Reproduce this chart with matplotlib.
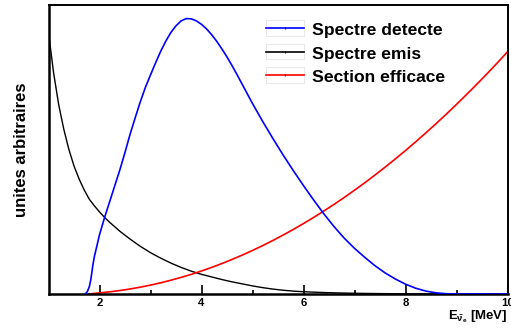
import numpy as np
import matplotlib
matplotlib.use("Agg")
import matplotlib.pyplot as plt
from matplotlib.lines import Line2D
from matplotlib.patches import Rectangle

plt.rcParams['font.family'] = ['Liberation Sans', 'DejaVu Sans']
plt.rcParams['font.weight'] = 'bold'
plt.rcParams['mathtext.fontset'] = 'custom'
plt.rcParams['mathtext.rm'] = 'Liberation Sans:bold'
plt.rcParams['mathtext.bf'] = 'Liberation Sans:bold'
plt.rcParams['mathtext.it'] = 'Liberation Sans:bold'

# emitted antineutrino spectrum (arbitrary units)
e_emis = [1.0, 1.1, 1.2, 1.3, 1.4, 1.5, 1.6, 1.7, 1.8, 1.9, 2.0, 2.1, 2.2, 2.4,
          2.6, 2.8, 3.0, 3.2, 3.4, 3.6, 3.8, 4.0, 4.2, 4.4, 4.6, 4.8, 5.0, 5.2,
          5.4, 5.6, 5.8, 6.0, 6.4, 6.8, 7.2, 7.6, 8.0, 9.0, 10.0]
spectre_emis = [0.905, 0.765, 0.655, 0.57, 0.50, 0.443, 0.398, 0.36, 0.328,
                0.305, 0.284, 0.265, 0.248, 0.217, 0.19, 0.165, 0.143, 0.124,
                0.107, 0.092, 0.079, 0.068, 0.059, 0.050, 0.042, 0.035, 0.028,
                0.022, 0.017, 0.013, 0.010, 0.0078, 0.005, 0.0032, 0.002,
                0.0012, 0.0007, 0.0002, 0.0]

# inverse beta decay cross section
e_sect = [1.8, 1.9, 2.0, 2.2, 2.4, 2.6, 2.8, 3.0, 3.2, 3.4, 3.6, 3.8, 4.0, 4.2,
          4.4, 4.6, 4.8, 5.0, 5.2, 5.4, 5.6, 5.8, 6.0, 6.2, 6.4, 6.6, 6.8, 7.0,
          7.2, 7.4, 7.6, 7.8, 8.0, 8.2, 8.4, 8.6, 8.8, 9.0, 9.2, 9.4, 9.6, 9.8,
          10.0]
section_efficace = [0.0, 0.0022, 0.0038, 0.0075, 0.012, 0.0174, 0.0237, 0.0308,
                    0.0388, 0.0477, 0.0575, 0.0681, 0.0797, 0.0921, 0.1054,
                    0.1196, 0.1347, 0.1507, 0.1675, 0.1853, 0.2039, 0.2234,
                    0.2438, 0.2651, 0.2873, 0.3103, 0.3343, 0.3591, 0.3848,
                    0.4114, 0.4389, 0.4673, 0.4965, 0.5267, 0.5577, 0.5896,
                    0.6224, 0.6561, 0.6907, 0.7261, 0.7625, 0.7997, 0.838]

# detected spectrum
e_det = [1.72, 1.76, 1.80, 1.83, 1.87, 1.9, 2.0, 2.1, 2.2, 2.3, 2.4, 2.5, 2.6,
         2.7, 2.8, 2.9, 3.0, 3.1, 3.2, 3.3, 3.4, 3.5, 3.6, 3.7, 3.8, 3.9, 4.0,
         4.1, 4.2, 4.3, 4.4, 4.5, 4.6, 4.7, 4.8, 4.9, 5.0, 5.2, 5.4, 5.6, 5.8,
         6.0, 6.2, 6.4, 6.6, 6.8, 7.0, 7.2, 7.4, 7.6, 7.8, 8.0, 8.2, 8.4, 8.6,
         8.8, 9.0, 10.0]
spectre_det = [0.0, 0.008, 0.025, 0.05, 0.10, 0.13, 0.205, 0.265, 0.32, 0.375,
               0.43, 0.49, 0.553, 0.61, 0.665, 0.715, 0.758, 0.80, 0.84, 0.875,
               0.905, 0.928, 0.945, 0.953, 0.952, 0.945, 0.933,
               0.917, 0.897, 0.874, 0.848, 0.82, 0.79, 0.758, 0.725, 0.692,
               0.659, 0.597, 0.538, 0.481, 0.427, 0.375, 0.325, 0.277, 0.233,
               0.193, 0.158, 0.127, 0.098, 0.073, 0.052, 0.034, 0.020, 0.010,
               0.004, 0.001, 0.0, 0.0]

labels = ['Spectre detecte', 'Spectre emis', 'Section efficace']
colors = ['blue', 'black', 'red']

W, H = 511, 329
fig = plt.figure(figsize=(W / 100, H / 100), dpi=100)
ax = fig.add_axes([48.5 / W, 1 - 294 / H, 459 / W, 289 / H])

ax.plot(e_emis, spectre_emis, color='black', lw=1.0)
ax.plot(e_sect, section_efficace, color='red', lw=1.2)
ax.plot(e_det, spectre_det, color='blue', lw=1.2, zorder=3)

ax.set_xlim(1, 10)
ax.set_ylim(0, 1)
ax.set_yticks([])
ax.set_xticks([2, 4, 6, 8, 10])
ax.set_xticks([3, 5, 7, 9], minor=True)
ax.tick_params(axis='x', which='major', direction='in', length=6.5, width=1.2,
               labelsize=8.2, pad=3)
ax.tick_params(axis='x', which='minor', direction='in', length=3, width=1.2)
for s in ax.spines.values():
    s.set_linewidth(1.4)
ax.spines['bottom'].set_linewidth(1.8)
ax.spines['left'].set_linewidth(1.8)

ax.set_ylabel('unites arbitraires', fontsize=12, fontweight='bold')
ax.yaxis.set_label_coords((29 - 48.5) / 459, 0.5)
ax.set_xlabel(r'E$_{\bar{\nu}_{e}}$ [MeV]', fontsize=9.5, fontweight='bold',
              ha='right', va='baseline')
ax.xaxis.set_label_coords(1.0, (294 - 319) / 289)

# legend drawn by hand, pixel positions
def fx(px):
    return px / W

def fy(py):
    return 1 - py / H

for i, (lab, c) in enumerate(zip(labels, colors)):
    yc = 28 + 23.5 * i
    fig.add_artist(Rectangle((fx(266), fy(yc + 7.5)), 37.5 / W, 15 / H,
                             transform=fig.transFigure, fill=False,
                             edgecolor='#e4e4e4', lw=0.6))
    fig.add_artist(Line2D([fx(266), fx(303.5)], [fy(yc), fy(yc)],
                          color=c, lw=1.2, transform=fig.transFigure))
    fig.add_artist(Line2D([fx(284.7)], [fy(yc)], marker='|', ms=2, mew=0.8,
                          color='black', transform=fig.transFigure))
    fig.text(fx(311.5), fy(yc + 7), lab, fontsize=12.6, fontweight='bold',
             ha='left', va='baseline')

fig.savefig('out.png', dpi=100)
